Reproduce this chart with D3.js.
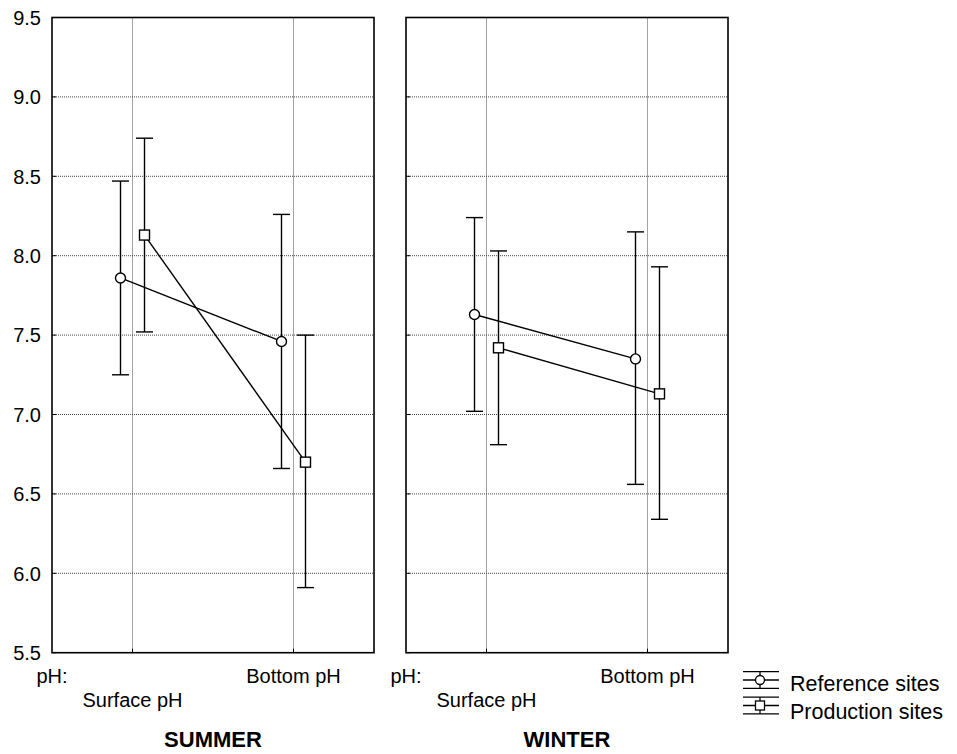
<!DOCTYPE html>
<html>
<head>
<meta charset="utf-8">
<script src="https://cdn.jsdelivr.net/npm/d3@7"></script>
<style>
  html, body { margin: 0; padding: 0; background: #fff; }
  text { font-family: "Liberation Sans", Arial, sans-serif; fill: #000; }
</style>
</head>
<body>
<svg id="chart" width="957" height="754"></svg>
<script>
// ---- data ----
const categories = ["Surface pH", "Bottom pH"];
const panels = ["SUMMER", "WINTER"];
const seriesNames = ["Reference sites", "Production sites"];
const yTicks = [5.5, 6.0, 6.5, 7.0, 7.5, 8.0, 8.5, 9.0, 9.5];

const summerRefMean = [7.86, 7.46];
const summerRefLow  = [7.25, 6.66];
const summerRefHigh = [8.47, 8.26];
const summerProdMean = [8.13, 6.70];
const summerProdLow  = [7.52, 5.91];
const summerProdHigh = [8.74, 7.50];

const winterRefMean = [7.63, 7.35];
const winterRefLow  = [7.02, 6.56];
const winterRefHigh = [8.24, 8.15];
const winterProdMean = [7.42, 7.13];
const winterProdLow  = [6.81, 6.34];
const winterProdHigh = [8.03, 7.93];

const panelData = [
  [ {mean: summerRefMean, low: summerRefLow, high: summerRefHigh},
    {mean: summerProdMean, low: summerProdLow, high: summerProdHigh} ],
  [ {mean: winterRefMean, low: winterRefLow, high: winterRefHigh},
    {mean: winterProdMean, low: winterProdLow, high: winterProdHigh} ]
];

// ---- layout ----
const svg = d3.select("#chart");
const yTop = 17.5, yBottom = 652.7;
const panelX = [[52, 374], [406, 728]];
const offsets = [-12, 12];
const y = d3.scaleLinear().domain([5.5, 9.5]).range([yBottom, yTop]);

panels.forEach((pname, pi) => {
  const [x0, x1] = panelX[pi];
  const x = d3.scalePoint().domain(categories).range([x0, x1]).padding(0.5);
  const g = svg.append("g");

  // grid horizontal
  g.selectAll("line.hgrid").data(yTicks.slice(1, -1)).enter().append("line")
    .attr("x1", x0).attr("x2", x1)
    .attr("y1", d => y(d)).attr("y2", d => y(d))
    .attr("stroke", "#444").attr("stroke-width", 1).attr("stroke-dasharray", "1,1");
  // grid vertical
  g.selectAll("line.vgrid").data(categories).enter().append("line")
    .attr("x1", d => x(d)).attr("x2", d => x(d))
    .attr("y1", yTop).attr("y2", yBottom)
    .attr("stroke", "#444").attr("stroke-width", 1).attr("stroke-dasharray", "1,1");

  // tick marks (inside)
  g.selectAll("line.ytick").data(yTicks).enter().append("line")
    .attr("x1", x0).attr("x2", x0 + 4)
    .attr("y1", d => y(d)).attr("y2", d => y(d))
    .attr("stroke", "#000").attr("stroke-width", 1);
  g.selectAll("line.xtick").data(categories).enter().append("line")
    .attr("x1", d => x(d)).attr("x2", d => x(d))
    .attr("y1", yBottom).attr("y2", yBottom - 4)
    .attr("stroke", "#000").attr("stroke-width", 1);

  // border
  g.append("rect").attr("x", x0).attr("y", yTop).attr("width", x1 - x0).attr("height", yBottom - yTop)
    .attr("fill", "none").attr("stroke", "#000").attr("stroke-width", 1.6);

  // y tick labels (left panel only)
  if (pi === 0) {
    g.selectAll("text.ylab").data(yTicks).enter().append("text")
      .attr("x", 41).attr("y", d => y(d)).attr("dy", "0.36em")
      .attr("text-anchor", "end").attr("font-size", 20)
      .text(d => d.toFixed(1));
  }

  // x labels
  g.append("text").attr("x", x0 - 15.5).attr("y", 683).attr("font-size", 20).text("pH:");
  categories.forEach((c, ci) => {
    g.append("text").attr("x", x(c)).attr("y", ci === 0 ? 707 : 683)
      .attr("text-anchor", "middle").attr("font-size", 20).text(c);
  });
  g.append("text").attr("x", (x0 + x1) / 2).attr("y", 747)
    .attr("text-anchor", "middle").attr("font-size", 22).attr("font-weight", "bold").text(pname);

  // series
  panelData[pi].forEach((s, si) => {
    const px = c => x(c) + offsets[si];
    const pts = categories.map((c, ci) => ({c, ci}));
    // error bars
    pts.forEach(p => {
      const cx = px(p.c);
      g.append("line").attr("x1", cx).attr("x2", cx)
        .attr("y1", y(s.low[p.ci])).attr("y2", y(s.high[p.ci]))
        .attr("stroke", "#000").attr("stroke-width", 1.4);
      [s.low[p.ci], s.high[p.ci]].forEach(v => {
        g.append("line").attr("x1", cx - 8.5).attr("x2", cx + 8.5)
          .attr("y1", y(v)).attr("y2", y(v))
          .attr("stroke", "#000").attr("stroke-width", 1.4);
      });
    });
    // connecting line
    g.append("path")
      .attr("d", d3.line().x(p => px(p.c)).y(p => y(s.mean[p.ci]))(pts))
      .attr("fill", "none").attr("stroke", "#000").attr("stroke-width", 1.4);
    // markers
    pts.forEach(p => {
      const cx = px(p.c), cy = y(s.mean[p.ci]);
      if (si === 0) {
        g.append("circle").attr("cx", cx).attr("cy", cy).attr("r", 5)
          .attr("fill", "#fff").attr("stroke", "#000").attr("stroke-width", 1.4);
      } else {
        g.append("rect").attr("x", cx - 5).attr("y", cy - 5).attr("width", 10).attr("height", 10)
          .attr("fill", "#fff").attr("stroke", "#000").attr("stroke-width", 1.4);
      }
    });
  });
});

// ---- legend ----
const leg = svg.append("g");
const legRows = [{mid: 680, name: seriesNames[0], type: "circle", base: 691},
                 {mid: 705.5, name: seriesNames[1], type: "square", base: 719}];
legRows.forEach(r => {
  const lx0 = 743, lx1 = 779, lc = 760, h = 8.3;
  [r.mid - h, r.mid, r.mid + h].forEach(yy => {
    leg.append("line").attr("x1", lx0).attr("x2", lx1).attr("y1", yy).attr("y2", yy)
      .attr("stroke", "#000").attr("stroke-width", 1.3);
  });
  leg.append("line").attr("x1", lc).attr("x2", lc).attr("y1", r.mid - h).attr("y2", r.mid + h)
    .attr("stroke", "#000").attr("stroke-width", 1.3);
  if (r.type === "circle") {
    leg.append("circle").attr("cx", lc).attr("cy", r.mid).attr("r", 4.5)
      .attr("fill", "#fff").attr("stroke", "#000").attr("stroke-width", 1.3);
  } else {
    leg.append("rect").attr("x", lc - 4.5).attr("y", r.mid - 4.5).attr("width", 9).attr("height", 9)
      .attr("fill", "#fff").attr("stroke", "#000").attr("stroke-width", 1.3);
  }
  leg.append("text").attr("x", 790).attr("y", r.base).attr("font-size", 21.5).text(r.name);
});
</script>
</body>
</html>
